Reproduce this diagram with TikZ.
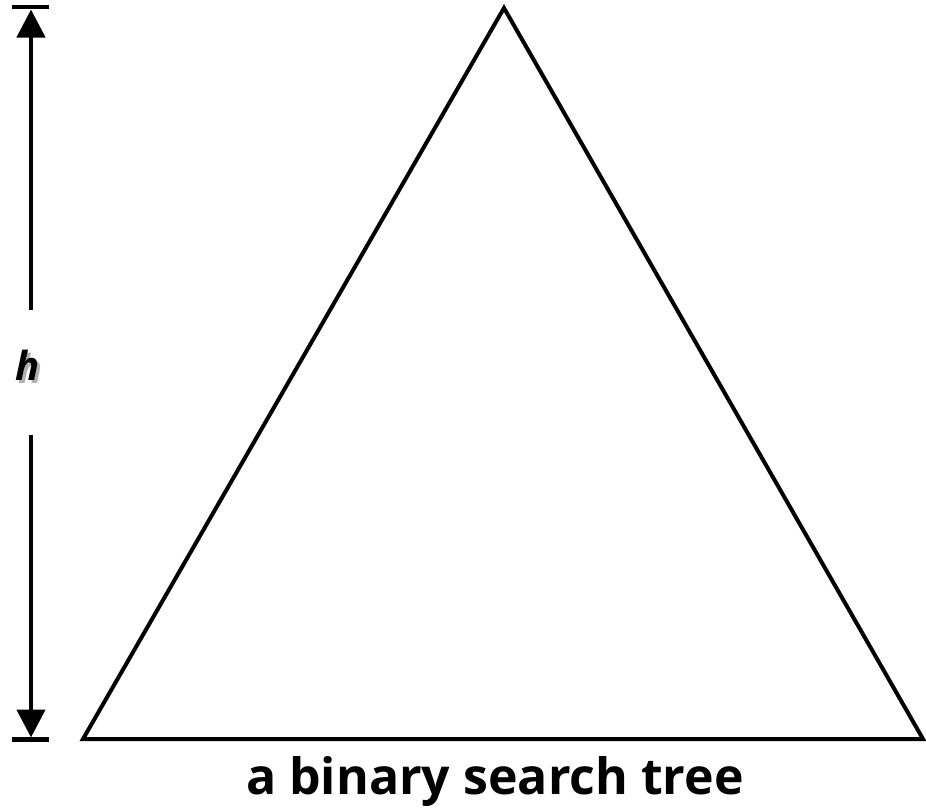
\documentclass[tikz,border=0pt]{standalone}
\usepackage{fontspec}
\setmainfont{Open Sans}
\usetikzlibrary{arrows.meta,positioning}

\newcommand{\shadowed}[1]{\makebox[0pt][l]{\hspace{2.5pt}\raisebox{-2.5pt}{\color{black!30}#1}}#1}

\begin{document}
\begin{tikzpicture}[
    x=1pt, y=-1pt,
    edge/.style={line width=4pt, line join=miter},
    bar/.style={line width=4.5pt},
    dim/.style={line width=4.5pt, -{Triangle[length=28pt,width=28pt]}},
    caption/.style={font=\fontsize{50}{60}\selectfont\bfseries, inner sep=0pt},
    hlabel/.style={font=\fontsize{40}{48}\selectfont\bfseries\itshape, inner sep=0pt}
]
    \useasboundingbox (0,0) rectangle (926,807);
    % the tree
    \coordinate (apex) at (504,8);
    \coordinate (left) at (83,739);
    \coordinate (right) at (923,739);
    \draw[edge] (apex) -- (left) -- (right) -- cycle;

    % height marker
    \coordinate (topl) at (12,7);
    \coordinate (topr) at (49,7);
    \coordinate (botl) at (12,739.5);
    \coordinate (botr) at (49,739.5);
    \draw[bar] (topl) -- (topr);
    \draw[bar] (botl) -- (botr);
    \node[hlabel] (h) at (28,367) {\shadowed{h}};
    \coordinate (uptop) at (31,9.5);
    \coordinate (upend) at (31,310);
    \coordinate (downtop) at (31,435);
    \coordinate (downend) at (31,737.5);
    \draw[dim] (upend) -- (uptop);
    \draw[dim] (downtop) -- (downend);

    \node[caption] (cap) at (495,781) {a binary search tree};
\end{tikzpicture}
\end{document}
